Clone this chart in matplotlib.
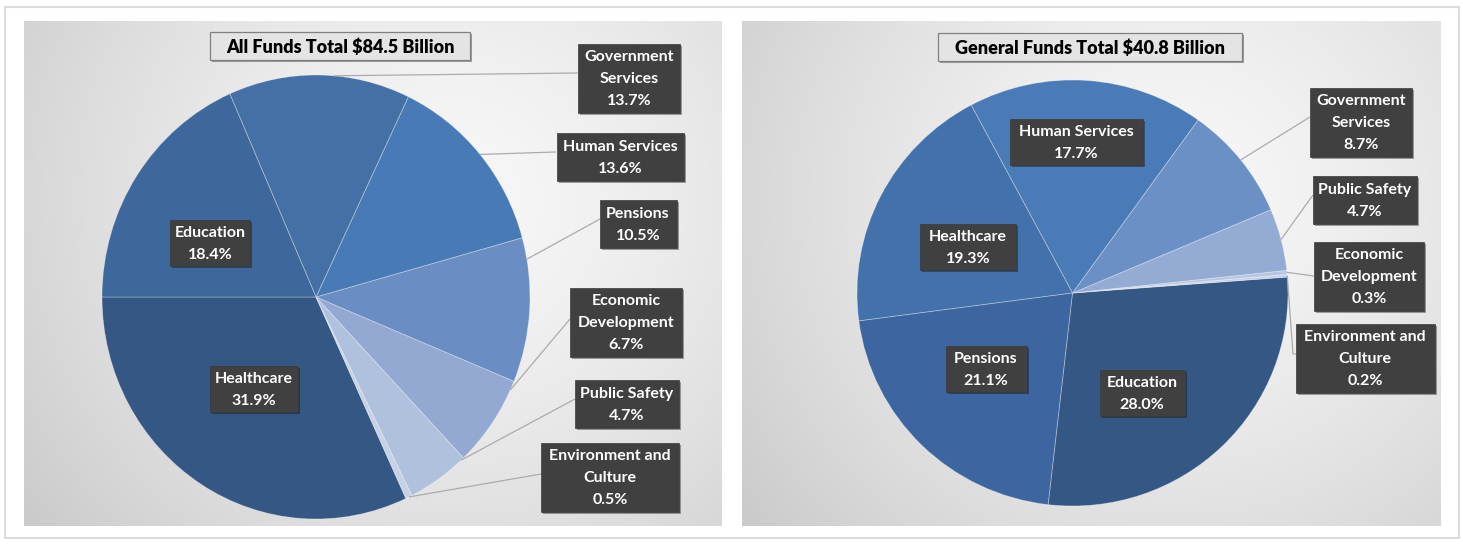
import numpy as np
import matplotlib
matplotlib.use("Agg")
import matplotlib.pyplot as plt
from matplotlib.patches import Rectangle
import matplotlib.patheffects as pe

# ---- data -------------------------------------------------------------
all_funds_title = "All Funds Total $84.5 Billion"
all_categories = ["Healthcare", "Environment and Culture", "Public Safety",
                  "Economic Development", "Pensions", "Human Services",
                  "Government Services", "Education"]
all_shares = [31.9, 0.5, 4.7, 6.7, 10.5, 13.6, 13.7, 18.4]

general_funds_title = "General Funds Total $40.8 Billion"
general_categories = ["Education", "Environment and Culture", "Economic Development",
                      "Public Safety", "Government Services", "Human Services",
                      "Healthcare", "Pensions"]
general_shares = [28.0, 0.2, 0.3, 4.7, 8.7, 17.7, 19.3, 21.1]

# ---- styling ----------------------------------------------------------
plt.rcParams['font.family'] = ['Lato', 'DejaVu Sans']

all_colors = ["#355784", "#c6d1e7", "#b0c1de", "#93a9d1", "#6a8ec3",
              "#487bb5", "#4470a5", "#3e679c"]
general_colors = ["#355784", "#c6d1e7", "#b6c6e2", "#94abd4", "#6b90c6",
                  "#4a7bb7", "#4371ab", "#3d66a0"]

wrapped = {"Government Services": "Government\nServices",
           "Economic Development": "Economic\nDevelopment",
           "Environment and Culture": "Environment and\nCulture"}

W, H = 1463, 544
fig = plt.figure(figsize=(W / 100, H / 100), dpi=100)
fig.patch.set_facecolor("white")


def pixel_axes():
    a = fig.add_axes([0, 0, 1, 1])
    a.set_xlim(0, W)
    a.set_ylim(H, 0)
    a.axis("off")
    a.patch.set_alpha(0)
    return a


# background canvas in pixel units (y downwards)
bg = pixel_axes()

# outer frame
bg.add_patch(Rectangle((4.5, 6.5), 1454, 531, fill=False, ec="#dcdcdc", lw=1.5))


def panel_background(x0, y0, x1, y1):
    ny, nx = 200, 300
    yy, xx = np.mgrid[0:1:ny * 1j, 0:1:nx * 1j]
    d = np.sqrt(((xx - 0.62) / 0.75) ** 2 + ((yy - 0.35) / 1.0) ** 2)
    val = 0.97 - 0.165 * np.clip(d, 0, 1.2) ** 1.4
    img = np.dstack([val, val, val])
    bg.imshow(img, extent=(x0, x1, y1, y0), aspect="auto", zorder=0,
              interpolation="bilinear")


panel_background(24, 21, 722, 526)
panel_background(742, 21, 1441, 526)


def draw_pie(box, shares, colors, start):
    x0, y0, x1, y1 = box
    ax = fig.add_axes([x0 / W, 1 - y1 / H, (x1 - x0) / W, (y1 - y0) / H])
    ax.axis("off")
    ax.patch.set_alpha(0)
    wedges, _ = ax.pie(shares, colors=colors, startangle=start, counterclock=True,
                       radius=1.0, center=(0, 0), frame=False,
                       wedgeprops=dict(edgecolor=(1, 1, 1, 0.35), linewidth=0.6))
    ax.set_aspect("auto")
    ax.set_xlim(-1, 1)
    ax.set_ylim(-1, 1)
    return ax, wedges


ax1, w1 = draw_pie((102, 75, 530, 519), all_shares, all_colors, 180)
ax2, w2 = draw_pie((857, 80, 1288, 506), general_shares, general_colors, 263.5)

# overlay canvas for titles, labels and leader lines
top = pixel_axes()


def edge_point(ax, wedge, frac=0.5, r=1.0):
    ang = np.deg2rad(wedge.theta1 + frac * (wedge.theta2 - wedge.theta1))
    disp = ax.transData.transform((r * np.cos(ang), r * np.sin(ang)))
    return top.transData.inverted().transform(disp)


shadow = [pe.SimplePatchShadow(offset=(1.5, -1.5), shadow_rgbFace="#000000", alpha=0.35),
          pe.Normal()]


def label_box(cx, cy, w, h, name, value):
    txt = f"{wrapped.get(name, name)}\n{value:.1f}%"
    r = Rectangle((cx - w / 2, cy - h / 2), w, h, fc="#404040", ec="#3a3a3a",
                  lw=0.5, zorder=5)
    r.set_path_effects(shadow)
    top.add_patch(r)
    top.text(cx, cy + 1, txt, ha="center", va="center", color="white",
             fontsize=11.5, fontweight="bold", linespacing=1.72, zorder=6)


def title_box(cx, cy, w, h, text):
    r = Rectangle((cx - w / 2, cy - h / 2), w, h, fc="#e4e4e4", ec="#808080",
                  lw=0.9, zorder=5)
    r.set_path_effects(shadow)
    top.add_patch(r)
    top.text(cx, cy + 1, text, ha="center", va="center", color="black",
             fontsize=13, fontweight="heavy", zorder=6)


def leader(points):
    xs, ys = zip(*points)
    top.plot(xs, ys, color="#ababab", lw=0.9, zorder=4, solid_capstyle="butt")


# ---- All Funds --------------------------------------------------------
title_box(340, 46, 260, 28, all_funds_title)

# outside labels: (category index, box centre x, box centre y, width, height,
#                  leader start on box, fraction along wedge arc)
left_outside = [
    (6, 629, 78, 102, 69, (578, 73), 0.42),
    (5, 620, 157, 127, 48, (556, 152), 0.5),
    (4, 638, 224, 77, 48, (600, 219), 0.85),
    (3, 626, 322, 112, 69, (570, 319), 0.9),
    (2, 627, 404, 104, 48, (575, 399), 0.95),
    (1, 610, 477, 138, 69, (541, 474), 0.5),
]
for i, cx, cy, bw, bh, start, frac in left_outside:
    leader([start, tuple(edge_point(ax1, w1[i], frac))])
    label_box(cx, cy, bw, bh, all_categories[i], all_shares[i])

label_box(210, 243, 80, 46, all_categories[7], all_shares[7])
label_box(254, 389, 88, 46, all_categories[0], all_shares[0])

# ---- General Funds ----------------------------------------------------
title_box(1090, 47, 304, 28, general_funds_title)

right_outside = [
    (4, 1361, 122, 102, 69, [(1310, 117)], 0.5),
    (3, 1365, 200, 104, 48, [(1313, 195)], 0.5),
    (2, 1369, 276, 110, 69, [(1314, 276)], 0.5),
    (1, 1365, 358, 139, 69, [(1296, 354), (1293, 354)], 0.5),
]
for i, cx, cy, bw, bh, pts, frac in right_outside:
    leader(pts + [tuple(edge_point(ax2, w2[i], frac))])
    label_box(cx, cy, bw, bh, general_categories[i], general_shares[i])

label_box(1076, 142, 133, 46, general_categories[5], general_shares[5])
label_box(968, 247, 96, 46, general_categories[6], general_shares[6])
label_box(986, 369, 81, 46, general_categories[7], general_shares[7])
label_box(1142, 393, 85, 46, general_categories[0], general_shares[0])

fig.savefig("out.png", dpi=100, facecolor=fig.get_facecolor())
